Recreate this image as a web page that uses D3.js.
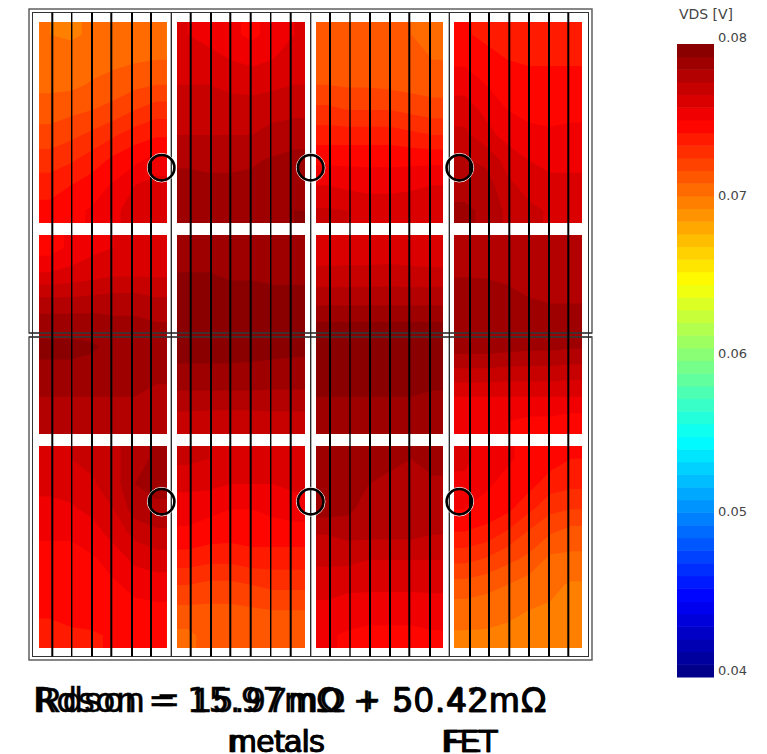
<!DOCTYPE html>
<html>
<head>
<meta charset="utf-8">
<style>
  html, body { margin: 0; background: #fff; }
  svg { display: block; }
  text { font-family: "DejaVu Sans", sans-serif; }
</style>
</head>
<body>
<div id="chart"></div>
<script src="https://cdn.jsdelivr.net/npm/d3@7"></script>
<script>
// VDS in mV, 8 rows x 6 columns per metal panel
const panelR1C1 = [
  70.4, 70.3, 70.5, 70.7, 70.8, 70.9,
  70.6, 70.7, 70.8, 71.0, 71.1, 71.2,
  71.0, 71.0, 71.3, 71.5, 71.8, 72.0,
  71.6, 71.8, 72.0, 72.3, 72.8, 73.2,
  72.3, 72.6, 73.0, 73.5, 74.0, 74.3,
  73.2, 73.5, 74.0, 74.6, 75.0, 75.5,
  74.0, 74.4, 74.8, 75.3, 76.0, 76.3,
  74.7, 75.0, 75.3, 75.8, 76.4, 76.8
]
const panelR1C2 = [
  76.0, 75.8, 75.4, 75.0, 75.5, 76.0,
  76.3, 76.2, 76.0, 75.8, 76.0, 76.3,
  76.8, 76.8, 76.6, 76.5, 76.6, 76.8,
  77.2, 77.2, 77.2, 77.2, 77.4, 77.4,
  77.6, 77.6, 77.6, 77.6, 77.8, 78.0,
  78.3, 78.2, 78.2, 78.3, 78.5, 78.7,
  78.6, 78.6, 78.6, 78.6, 78.8, 79.0,
  78.8, 78.8, 78.9, 79.0, 79.0, 79.2
]
const panelR1C3 = [
  71.3, 71.3, 71.3, 71.3, 71.2, 70.6,
  71.6, 71.5, 71.5, 71.4, 71.3, 71.2,
  72.0, 71.9, 71.9, 71.8, 71.7, 71.6,
  73.0, 72.8, 72.8, 72.8, 72.6, 72.4,
  74.0, 74.0, 74.0, 74.0, 73.8, 73.6,
  75.0, 75.0, 75.0, 75.0, 75.0, 75.0,
  76.0, 75.8, 75.7, 75.7, 75.8, 76.0,
  76.9, 76.8, 76.6, 76.6, 76.7, 76.8
]
const panelR1C4 = [
  74.5, 74.2, 74.0, 74.0, 74.0, 74.0,
  75.0, 74.7, 74.4, 74.3, 74.3, 74.3,
  75.7, 75.2, 74.8, 74.7, 74.7, 74.7,
  76.4, 75.8, 75.2, 75.0, 75.0, 75.0,
  77.0, 76.3, 75.7, 75.4, 75.3, 75.4,
  77.7, 77.4, 76.5, 76.0, 75.8, 75.8,
  78.2, 78.0, 77.0, 76.5, 76.2, 76.2,
  78.5, 78.3, 77.4, 77.0, 76.7, 76.7
]
const panelR2C1 = [
  74.8, 75.4, 75.8, 76.0, 76.0, 76.0,
  76.0, 76.2, 76.4, 76.6, 76.6, 76.6,
  77.6, 77.6, 77.7, 77.8, 77.8, 77.6,
  78.8, 78.8, 78.8, 78.6, 78.6, 78.4,
  79.4, 79.4, 79.3, 79.0, 79.0, 78.8,
  79.0, 79.0, 78.9, 78.8, 78.8, 78.6,
  78.4, 78.4, 78.4, 78.4, 78.4, 78.2,
  77.8, 77.9, 78.0, 78.0, 78.2, 78.0
]
const panelR2C2 = [
  79.0, 79.0, 78.8, 78.8, 78.7, 78.6,
  79.2, 79.2, 79.0, 79.0, 79.0, 79.0,
  79.6, 79.6, 79.6, 79.6, 79.4, 79.4,
  79.7, 79.7, 79.7, 79.7, 79.6, 79.6,
  79.6, 79.6, 79.6, 79.5, 79.5, 79.4,
  79.0, 79.0, 79.0, 79.0, 78.9, 78.9,
  78.2, 78.2, 78.2, 78.2, 78.2, 78.2,
  77.2, 77.1, 77.1, 77.1, 77.2, 77.2
]
const panelR2C3 = [
  76.2, 76.3, 76.3, 76.2, 76.2, 76.0,
  77.0, 77.0, 77.0, 77.1, 77.0, 77.0,
  78.0, 78.0, 78.0, 78.0, 78.0, 78.0,
  79.2, 79.2, 79.2, 79.2, 79.2, 79.2,
  79.6, 79.6, 79.6, 79.6, 79.6, 79.6,
  79.6, 79.6, 79.6, 79.6, 79.6, 79.5,
  79.2, 79.2, 79.2, 79.2, 79.2, 79.1,
  78.7, 78.6, 78.6, 78.6, 78.6, 78.6
]
const panelR2C4 = [
  78.3, 78.2, 78.3, 78.2, 78.0, 77.6,
  78.3, 78.3, 78.2, 78.0, 78.0, 77.8,
  78.8, 78.7, 78.6, 78.4, 78.2, 78.2,
  79.2, 79.2, 79.1, 79.0, 79.0, 79.0,
  78.8, 78.8, 78.7, 78.6, 78.6, 78.5,
  77.4, 77.4, 77.3, 77.3, 77.3, 77.2,
  76.0, 76.0, 76.0, 76.0, 76.0, 76.0,
  75.5, 75.3, 75.2, 75.0, 75.0, 74.8
]
const panelR3C1 = [
  76.8, 76.8, 77.0, 77.4, 78.0, 78.6,
  76.2, 76.3, 76.7, 77.2, 78.4, 78.7,
  75.8, 75.9, 76.2, 76.8, 78.0, 78.2,
  75.3, 75.3, 75.6, 76.3, 77.0, 77.4,
  74.9, 74.9, 75.1, 75.5, 76.2, 76.4,
  74.8, 74.8, 74.9, 75.1, 75.4, 75.6,
  74.5, 74.6, 74.8, 74.9, 75.0, 75.0,
  74.2, 74.3, 74.3, 74.5, 74.7, 74.7
]
const panelR3C2 = [
  77.0, 76.8, 76.6, 76.6, 76.6, 76.8,
  76.2, 76.2, 76.0, 76.0, 76.0, 76.2,
  75.6, 75.4, 75.2, 75.2, 75.4, 75.6,
  75.0, 74.8, 74.7, 74.8, 74.8, 74.8,
  74.0, 73.8, 73.8, 74.0, 74.0, 74.0,
  72.8, 72.6, 72.6, 72.8, 73.0, 73.0,
  71.8, 71.8, 71.8, 71.9, 72.0, 72.0,
  71.0, 71.5, 71.5, 71.5, 71.5, 71.7
]
const panelR3C3 = [
  79.0, 79.0, 78.7, 78.6, 78.4, 78.8,
  78.8, 78.8, 78.4, 78.2, 78.2, 78.2,
  78.8, 78.6, 78.0, 77.9, 77.9, 78.0,
  77.6, 77.8, 77.8, 77.8, 77.8, 77.6,
  77.0, 77.0, 76.8, 76.8, 76.8, 76.8,
  76.3, 76.2, 76.2, 76.2, 76.2, 76.2,
  75.8, 75.6, 75.5, 75.5, 75.5, 75.6,
  75.3, 75.1, 75.0, 75.0, 75.0, 75.1
]
const panelR3C4 = [
  76.2, 75.6, 75.3, 75.0, 74.8, 74.4,
  75.8, 75.3, 75.0, 74.7, 74.0, 73.8,
  75.2, 75.0, 74.6, 73.8, 73.0, 72.8,
  74.3, 74.0, 73.4, 72.6, 72.0, 71.6,
  73.0, 72.7, 72.2, 71.8, 71.0, 71.0,
  71.7, 71.5, 71.2, 70.8, 70.6, 70.3,
  70.8, 70.7, 70.6, 70.4, 70.3, 70.0,
  70.3, 70.3, 70.2, 70.1, 70.0, 69.8
]
const panelValues = [
  [panelR1C1, panelR1C2, panelR1C3, panelR1C4],
  [panelR2C1, panelR2C2, panelR2C3, panelR2C4],
  [panelR3C1, panelR3C2, panelR3C3, panelR3C4]
]

// chip layout in mm, measured from the frame's top left corner
const panelSpanX = [[0.103, 1.377], [1.48, 2.76], [2.87, 4.14], [4.25, 5.53]]
const panelSpanY = [[0.13, 2.14], [2.26, 4.25], [4.37, 6.39]]
const fingerX = [
  0.233, 0.427, 0.63, 0.823, 1.03, 1.22,
  1.617, 1.82, 2.013, 2.217, 2.417, 2.617,
  3.01, 3.21, 3.41, 3.61, 3.803, 4.01,
  4.41, 4.6, 4.803, 5.0, 5.2, 5.393
]
const busX = [1.423, 2.817, 4.203]
const bumpX = [1.327, 2.817, 4.303]
const bumpY = [1.587, 4.927]

const legendTicks = [0.04, 0.05, 0.06, 0.07, 0.08]
const bandEdges = d3.range(40, 80, 0.8)
const titleLine = 'Rdson = 15.97mΩ + 50.42mΩ'
const subLabels = ['metals', 'FET']

const gridCols = 6
const gridRows = 8

const width = 767
const height = 754

const chipX = d3.scaleLinear().domain([0, 5.63]).range([29, 592])
const chipY = d3.scaleLinear().domain([0, 6.51]).range([9, 660])

const jet = d3.scaleLinear()
  .domain([40, 45, 55, 65, 75, 80])
  .range(['#000080', '#0000ff', '#00ffff', '#ffff00', '#ff0000', '#800000'])
const bandColor = (edge) => jet(edge + 0.4)

const svg = d3.select('#chart').append('svg')
  .attr('width', width)
  .attr('height', height)

// repeat the edge samples so contours run square into the panel corners
function padGrid (values) {
  const out = []
  for (let r = -1; r <= gridRows; r++) {
    for (let c = -1; c <= gridCols; c++) {
      const rr = Math.max(0, Math.min(gridRows - 1, r))
      const cc = Math.max(0, Math.min(gridCols - 1, c))
      out.push(values[rr * gridCols + cc])
    }
  }
  return out
}

// heat panels
const contours = d3.contours().size([gridCols + 2, gridRows + 2]).thresholds(bandEdges)
const defs = svg.append('defs')
const panels = svg.append('g').attr('class', 'panels')

panelValues.forEach((row, r) => {
  row.forEach((values, c) => {
    const px = d3.scaleLinear().domain([1, gridCols + 1]).range(panelSpanX[c].map(chipX))
    const py = d3.scaleLinear().domain([1, gridRows + 1]).range(panelSpanY[r].map(chipY))
    const path = d3.geoPath(d3.geoTransform({
      point (x, y) { this.stream.point(px(x), py(y)) }
    }))
    const clipId = `panel-${r}-${c}`

    defs.append('clipPath').attr('id', clipId)
      .append('rect')
      .attr('x', px(1))
      .attr('y', py(1))
      .attr('width', px(gridCols + 1) - px(1))
      .attr('height', py(gridRows + 1) - py(1))

    panels.append('g')
      .attr('clip-path', `url(#${clipId})`)
      .selectAll('path')
      .data(contours(padGrid(values)))
      .join('path')
      .attr('d', path)
      .attr('fill', (d) => bandColor(d.value))
  })
})

// frame, top and bottom half
const frame = svg.append('g').attr('fill', 'none')
const halves = [[0, 3.24], [3.28, 6.51]]

frame.selectAll('.outer').data(halves).join('rect')
  .attr('class', 'outer')
  .attr('x', chipX(0))
  .attr('y', (d) => chipY(d[0]))
  .attr('width', chipX(5.63) - chipX(0))
  .attr('height', (d) => chipY(d[1]) - chipY(d[0]))
  .attr('stroke', '#555')
  .attr('stroke-width', 1.4)

frame.append('rect')
  .attr('x', chipX(0.035))
  .attr('y', chipY(0.035))
  .attr('width', chipX(5.595) - chipX(0.035))
  .attr('height', chipY(6.475) - chipY(0.035))
  .attr('stroke', '#333')
  .attr('stroke-width', 1)

// metal fingers and the thin bus lines
const lines = svg.append('g').attr('class', 'fingers')

lines.selectAll('.finger').data(fingerX).join('line')
  .attr('class', 'finger')
  .attr('x1', (d) => chipX(d))
  .attr('x2', (d) => chipX(d))
  .attr('y1', chipY(0.035))
  .attr('y2', chipY(6.475))
  .attr('stroke', '#000')
  .attr('stroke-width', (d, i) => (i === 1 || i === 10 || i === 13) ? 1.4 : 2)

lines.selectAll('.bus').data(busX).join('line')
  .attr('class', 'bus')
  .attr('x1', (d) => chipX(d))
  .attr('x2', (d) => chipX(d))
  .attr('y1', chipY(0.035))
  .attr('y2', chipY(6.475))
  .attr('stroke', '#222')
  .attr('stroke-width', 1.3)

// seam between the two halves reads darker than the outer frame
frame.selectAll('.seam').data([3.24, 3.28]).join('line')
  .attr('class', 'seam')
  .attr('x1', chipX(0))
  .attr('x2', chipX(5.63))
  .attr('y1', (d) => chipY(d))
  .attr('y2', (d) => chipY(d))
  .attr('stroke', '#222')
  .attr('stroke-width', 1.2)

// bumps
const bumpCentres = d3.cross(bumpX, bumpY)
const bumps = svg.append('g').attr('fill', 'none')

bumps.selectAll('.halo').data(bumpCentres).join('circle')
  .attr('class', 'halo')
  .attr('cx', (d) => chipX(d[0]))
  .attr('cy', (d) => chipY(d[1]))
  .attr('r', 14.3)
  .attr('stroke', '#fff')
  .attr('stroke-width', 1)

bumps.selectAll('.bump').data(bumpCentres).join('circle')
  .attr('class', 'bump')
  .attr('cx', (d) => chipX(d[0]))
  .attr('cy', (d) => chipY(d[1]))
  .attr('r', 12.7)
  .attr('stroke', '#000')
  .attr('stroke-width', 2.6)

// colour bar
const legendY = d3.scaleLinear().domain([0.04, 0.08]).range([677, 44])
const legend = svg.append('g').attr('class', 'legend')

legend.selectAll('rect').data(bandEdges).join('rect')
  .attr('x', 677)
  .attr('width', 37)
  .attr('y', (d) => legendY((d + 0.8) / 1000))
  .attr('height', (d) => legendY(d / 1000) - legendY((d + 0.8) / 1000) + 0.5)
  .attr('fill', bandColor)

const legendAxis = d3.axisRight(legendY)
  .tickValues(legendTicks)
  .tickFormat(d3.format('.2f'))
  .tickSize(0)
  .tickPadding(4)

const axisG = svg.append('g')
  .attr('transform', 'translate(714, -7)')
  .call(legendAxis)

axisG.select('.domain').remove()
axisG.selectAll('text')
  .attr('fill', '#444')
  .style('font-size', '13px')
  .style('font-family', '"DejaVu Sans", sans-serif')

svg.append('text')
  .attr('x', 706)
  .attr('y', 19)
  .attr('text-anchor', 'middle')
  .attr('fill', '#444')
  .style('font-size', '14px')
  .text('VDS [V]')

// the caption is printed twice with slightly different metrics
const captions = svg.append('g').attr('fill', '#000').attr('stroke', '#000').attr('stroke-width', 0.4)

captions.append('text')
  .attr('x', 33)
  .attr('y', 712)
  .attr('textLength', 513)
  .attr('lengthAdjust', 'spacing')
  .style('font-size', '33px')
  .style('font-family', '"DejaVu Sans", sans-serif')
  .text(titleLine)

captions.append('text')
  .attr('x', 36)
  .attr('y', 712)
  .attr('textLength', 511)
  .attr('lengthAdjust', 'spacing')
  .style('font-size', '35px')
  .style('font-family', '"Liberation Sans", sans-serif')
  .text(titleLine)

const subX = [[227, 98], [441, 57]]
subLabels.forEach((label, i) => {
  captions.append('text')
    .attr('x', subX[i][0])
    .attr('y', 752)
    .attr('textLength', subX[i][1])
    .style('font-size', '31px')
    .style('font-family', '"DejaVu Sans", sans-serif')
    .text(label)
  captions.append('text')
    .attr('x', subX[i][0] + 3)
    .attr('y', 752)
    .attr('textLength', subX[i][1] - 3)
    .style('font-size', '32px')
    .style('font-family', '"Liberation Sans", sans-serif')
    .text(label)
})
</script>
</body>
</html>
